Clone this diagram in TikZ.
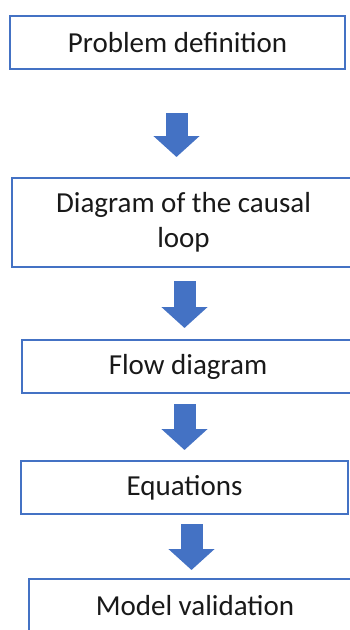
\documentclass[tikz,border=0pt]{standalone}
\usepackage{fontspec}
\setmainfont{Carlito}
\usetikzlibrary{arrows.meta}
\definecolor{stageblue}{HTML}{4472C4}
\tikzset{
  stage/.style={draw=stageblue, line width=2.5pt, minimum height=53pt, inner sep=0pt,
    align=center, text=black!90, font=\fontsize{29}{35}\selectfont},
  blockarrow/.style={draw=stageblue, line width=22pt,
    -{Triangle[width=45pt,length=21pt]}}
}
\begin{document}
\begin{tikzpicture}[x=1pt, y=-1pt]
  \useasboundingbox (0,0) rectangle (350,630);
  \clip (0,0) rectangle (350,630);
  % the modelling stages
  \node[stage, minimum width=335pt] (def) at (177.5,42.5) {Problem definition};
  \node[stage, minimum width=343pt, minimum height=89pt] (loop) at (183.5,222.5) {Diagram of the causal\\loop};
  \node[stage, minimum width=332pt] (flow) at (188,366.5) {Flow diagram};
  \node[stage, minimum width=327pt] (eq) at (184.5,487.5) {Equations};
  \node[stage, minimum width=332pt] (valid) at (195,605.5) {Model validation};
  % block arrows between them
  \foreach \i/\x/\top/\tip in {1/176.5/113/157, 2/184.5/281/328, 3/184.5/404/450, 4/191.5/524/570}{
    \coordinate (s\i) at (\x,\top);
    \coordinate (e\i) at (\x,\tip);
    \draw[blockarrow] (s\i) -- (e\i);
  }
\end{tikzpicture}
\end{document}
